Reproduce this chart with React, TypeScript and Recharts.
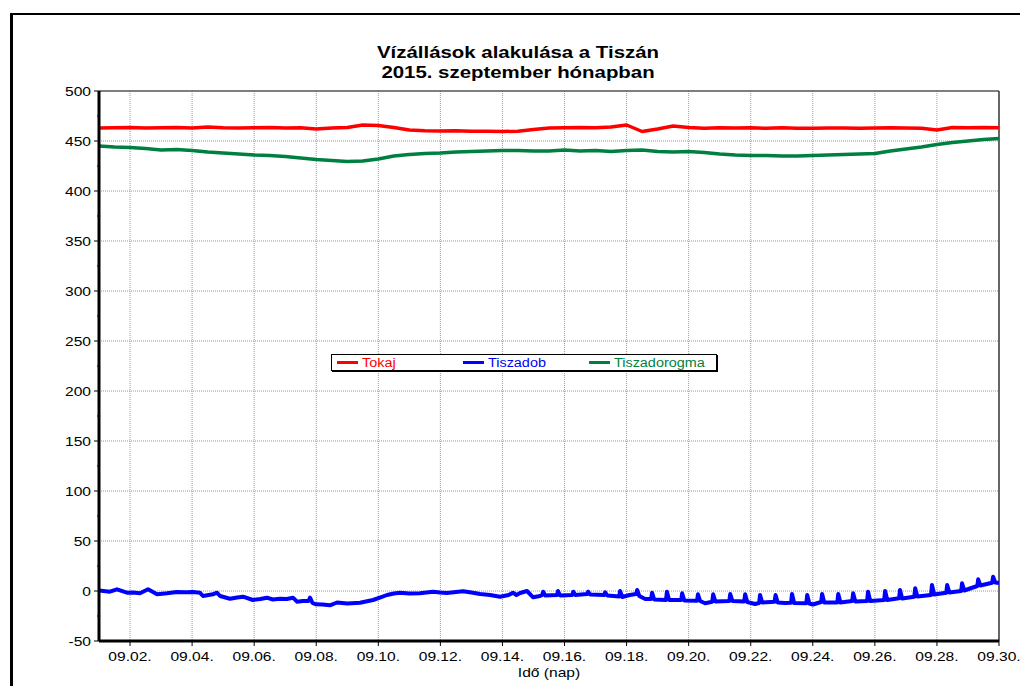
import { LineChart, Line, XAxis, YAxis, CartesianGrid, ReferenceLine, Legend } from 'recharts';

// Hourly gauge readings of the Tisza, September 2015 (cm)

const FONT = '"Liberation Sans", Arial, sans-serif';
const STRETCH = 1.2; // the original picture is a bit wider than tall, text too

const COLORS = {
  tokaj: '#ff0000',
  tiszadob: '#0000ff',
  tiszadorogma: '#008040',
};

// half-day steps from 09.01 to 09.30
const dayGrid = [
  1, 1.5, 2, 2.5, 3, 3.5, 4, 4.5, 5, 5.5, 6, 6.5, 7, 7.5, 8, 8.5, 9, 9.5, 10, 10.5,
  11, 11.5, 12, 12.5, 13, 13.5, 14, 14.5, 15, 15.5, 16, 16.5, 17, 17.5, 18, 18.5, 19, 19.5, 20, 20.5,
  21, 21.5, 22, 22.5, 23, 23.5, 24, 24.5, 25, 25.5, 26, 26.5, 27, 27.5, 28, 28.5, 29, 29.5, 30,
];

const tokaj = [
  463, 463.3, 463.5, 463, 463.2, 463.5, 463, 464, 463.2, 463, 463.2, 463.5, 463, 463.3, 462, 463, 463.5, 466, 465.5, 463.5,
  461, 460.3, 460, 460.2, 459.8, 459.7, 459.5, 459.8, 461.5, 463, 463.3, 463.5, 463.3, 464, 466, 459.5, 462, 465, 463.5, 462.8,
  463.3, 463, 463.2, 462.7, 463.2, 462.8, 462.7, 463, 463, 462.7, 463, 463.2, 463, 462.8, 461, 463.5, 463.3, 463.5, 463.2,
];

const tiszadorogma = [
  445, 444, 443.5, 442.5, 441, 441.5, 440.5, 439, 438, 437, 436, 435.5, 434.5, 433, 431.5, 430.5, 429.5, 430, 432, 435,
  436.5, 437.5, 438, 439, 439.5, 440, 440.5, 440.5, 440, 440, 441, 440, 440.5, 439.5, 440.5, 441, 439.5, 439, 439.5, 438.5,
  437, 436, 435.5, 435.5, 435, 435, 435.5, 436, 436.5, 437, 437.5, 440, 442, 444, 446.5, 448.5, 450, 451.5, 452.5,
];

// [day, level] - irregular, keeps the twice-daily peaks of the second half
const tiszadob: [number, number][] = [
  [1.0, 0.5], [1.35, -0.7], [1.58, 1.7], [1.9, -1.7], [2.1, -1.5], [2.32, -2.3], [2.58, 1.7], [2.87, -3.3],
  [3.19, -2.3], [3.51, -1], [3.8, -1.2], [4.03, -1], [4.25, -1.7], [4.35, -5], [4.67, -3.3], [4.8, -1.7],
  [4.9, -5], [5.22, -7.7], [5.45, -6.5], [5.64, -5.7], [5.96, -9], [6.2, -8], [6.41, -6.7], [6.6, -8.5],
  [6.83, -7.7], [7.05, -8], [7.25, -6.7], [7.38, -10.7], [7.57, -10], [7.75, -10], [7.8, -6.7], [7.88, -12],
  [7.99, -13.3], [8.2, -13.5], [8.44, -14.3], [8.67, -11.5], [9.0, -12.5], [9.41, -11.7], [9.83, -9], [10.05, -6.7],
  [10.28, -4], [10.5, -2.5], [10.7, -1.7], [11.0, -2.5], [11.34, -2.3], [11.76, -0.7], [12.0, -1.5], [12.21, -2],
  [12.5, -1], [12.73, -0.3], [13.0, -1.5], [13.28, -3], [13.6, -4], [13.92, -5.7], [14.2, -4], [14.34, -1.7],
  [14.45, -4], [14.57, -2], [14.79, 0], [14.99, -6.3], [15.21, -5],
  [15.28, -4], [15.31, -0.7], [15.38, -4.5],
  [15.76, -4], [15.79, 0], [15.86, -4.5],
  [16.25, -4], [16.28, -0.7], [16.35, -4],
  [16.73, -3], [16.76, -0.7], [16.83, -3.5],
  [17.28, -4], [17.31, -1.3], [17.38, -4.5],
  [17.76, -5.5], [17.79, 0], [17.86, -6],
  [18.1, -4],
  [18.31, -3], [18.34, 1], [18.41, -5],
  [18.6, -8],
  [18.79, -8], [18.82, -1.7], [18.89, -8.5],
  [19.27, -9], [19.3, -0.7], [19.37, -9],
  [19.76, -9], [19.79, -2.3], [19.86, -9.5],
  [20.27, -9.7], [20.3, -3.3], [20.37, -10],
  [20.53, -12.3],
  [20.76, -10.7], [20.79, -3.3], [20.86, -10.5],
  [21.31, -10], [21.34, -3], [21.41, -10],
  [21.79, -10.5], [21.82, -3.3], [21.89, -11],
  [22.14, -13],
  [22.27, -12], [22.3, -4], [22.37, -11.5],
  [22.77, -10.7], [22.8, -4], [22.87, -11.5],
  [23.1, -12],
  [23.3, -11.7], [23.33, -3], [23.4, -12],
  [23.79, -12.3], [23.82, -4], [23.89, -12.5],
  [24.0, -13.5],
  [24.27, -11], [24.3, -3], [24.37, -11.5],
  [24.79, -11.5], [24.82, -3], [24.89, -11.5],
  [25.27, -10], [25.3, -2.3], [25.37, -10.5],
  [25.75, -10], [25.78, -0.7], [25.85, -10],
  [26.3, -9], [26.33, 0], [26.4, -9],
  [26.78, -7.3], [26.81, 1], [26.88, -7.5],
  [27.27, -5.7], [27.3, 2.7], [27.37, -5.5],
  [27.81, -4], [27.84, 6], [27.91, -3.5],
  [28.3, -1.7], [28.33, 6], [28.4, -1.5],
  [28.78, 0], [28.81, 7.7], [28.88, 0.5],
  [29.3, 5], [29.33, 11.7], [29.4, 5.5],
  [29.78, 8.3], [29.81, 14.3], [29.88, 8.5],
  [30, 8],
];

const xTicks = [2, 4, 6, 8, 10, 12, 14, 16, 18, 20, 22, 24, 26, 28, 30];
const xGrid = [2, 4, 6, 8, 10, 12, 14, 16, 18, 20, 22, 24, 26, 28];
const yTicks = [
  -50, -25, 0, 25, 50, 75, 100, 125, 150, 175, 200, 225, 250, 275, 300, 325, 350, 375, 400, 425, 450, 475, 500,
];
const yGrid = [0, 50, 100, 150, 200, 250, 300, 350, 400, 450];

const legendItems = [
  { name: 'Tokaj', color: COLORS.tokaj },
  { name: 'Tiszadob', color: COLORS.tiszadob },
  { name: 'Tiszadorogma', color: COLORS.tiszadorogma },
];

const tokajData = dayGrid.map((t, i) => ({ t, v: tokaj[i] }));
const dorogmaData = dayGrid.map((t, i) => ({ t, v: tiszadorogma[i] }));
const dobData = tiszadob.map(([t, v]) => ({ t, v }));

const stretchAt = (x: number, y: number) =>
  `translate(${x} ${y}) scale(${STRETCH} 1) translate(${-x} ${-y})`;

function YTick(props: any) {
  const { x, y, payload } = props;
  const major = payload.value % 50 === 0;
  const axisX = x + 8; // tickSize 5 + tickMargin 3
  return (
    <g>
      <line x1={axisX - (major ? 5 : 2)} x2={axisX} y1={y} y2={y} stroke="#000" strokeWidth={1} />
      {major && (
        <text
          x={x}
          y={y}
          dy={5}
          textAnchor="end"
          fontSize={13}
          fontFamily={FONT}
          fill="#000"
          transform={stretchAt(x, y)}
        >
          {payload.value}
        </text>
      )}
    </g>
  );
}

function XTick(props: any) {
  const { x, y, payload } = props;
  const label = `09.${String(payload.value).padStart(2, '0')}.`;
  return (
    <text
      x={x}
      y={y}
      dy={13}
      textAnchor="middle"
      fontSize={13}
      fontFamily={FONT}
      fill="#000"
      transform={stretchAt(x, y)}
    >
      {label}
    </text>
  );
}

function XLabel(props: any) {
  const { viewBox } = props;
  const cx = viewBox.x + viewBox.width / 2;
  const y = viewBox.y + 36;
  return (
    <text x={cx} y={y} textAnchor="middle" fontSize={13} fontFamily={FONT} fill="#000" transform={stretchAt(cx, y)}>
      Idő (nap)
    </text>
  );
}

function LegendBox() {
  return (
    <div
      style={{
        boxSizing: 'border-box',
        width: 386,
        height: 17,
        border: '1px solid #000',
        boxShadow: '1px 1px 0 #000',
        background: '#fff',
        display: 'flex',
        alignItems: 'center',
        fontFamily: FONT,
        fontSize: 12,
        lineHeight: '14px',
      }}
    >
      {legendItems.map((item) => (
        <div
          key={item.name}
          style={{ boxSizing: 'border-box', width: 126, paddingLeft: 5, display: 'flex', alignItems: 'center' }}
        >
          <span style={{ display: 'inline-block', width: 21, height: 3, background: item.color, marginRight: 4 }} />
          <span
            style={{
              display: 'inline-block',
              color: item.color,
              transform: `scaleX(${STRETCH})`,
              transformOrigin: 'left center',
            }}
          >
            {item.name}
          </span>
        </div>
      ))}
    </div>
  );
}

export default function App() {
  return (
    <div
      style={{
        position: 'fixed',
        left: 0,
        top: 0,
        width: 1020,
        height: 686,
        overflow: 'hidden',
        background: '#fff',
      }}
    >
      {/* outer frame of the original picture, runs off the right and bottom edge */}
      <div
        style={{
          position: 'absolute',
          left: 10,
          top: 13,
          width: 1100,
          height: 800,
          borderTop: '2px solid #000',
          borderLeft: '3px solid #000',
        }}
      />
      <div
        style={{
          position: 'absolute',
          left: 0,
          top: 43,
          width: 1036,
          textAlign: 'center',
          fontFamily: FONT,
          fontWeight: 'bold',
          fontSize: 17,
          lineHeight: '20px',
          color: '#000',
          transform: `scaleX(${STRETCH})`,
        }}
      >
        <div>Vízállások alakulása a Tiszán</div>
        <div>2015. szeptember hónapban</div>
      </div>
      <div style={{ position: 'absolute', left: 0, top: 0 }}>
        <LineChart width={1020} height={686} margin={{ top: 91, right: 21, bottom: 15, left: 0 }}>
          <CartesianGrid
            horizontalValues={yGrid}
            verticalValues={xGrid}
            stroke="#999"
            strokeDasharray="1 1"
          />
          <XAxis
            type="number"
            dataKey="t"
            domain={[1, 30]}
            ticks={xTicks}
            height={30}
            tickSize={5}
            tickMargin={2}
            axisLine={{ stroke: '#000', strokeWidth: 3 }}
            tickLine={{ stroke: '#000' }}
            tick={<XTick />}
            label={<XLabel />}
            allowDataOverflow
          />
          <YAxis
            type="number"
            domain={[-50, 500]}
            ticks={yTicks}
            width={99}
            tickSize={5}
            tickMargin={3}
            axisLine={{ stroke: '#000', strokeWidth: 3 }}
            tickLine={false}
            tick={<YTick />}
            interval={0}
            allowDataOverflow
          />
          <ReferenceLine y={500} stroke="#555" strokeWidth={1.5} />
          <ReferenceLine x={30} stroke="#333" strokeWidth={1.5} />
          <Legend
            verticalAlign="middle"
            align="center"
            layout="horizontal"
            wrapperStyle={{ left: 331, top: 354, width: 386, height: 17 }}
            content={<LegendBox />}
          />
          <Line
            data={tokajData}
            dataKey="v"
            name="Tokaj"
            type="linear"
            stroke={COLORS.tokaj}
            strokeWidth={3.5}
            strokeLinejoin="round"
            dot={false}
            isAnimationActive={false}
          />
          <Line
            data={dobData}
            dataKey="v"
            name="Tiszadob"
            type="linear"
            stroke={COLORS.tiszadob}
            strokeWidth={4}
            strokeLinejoin="round"
            dot={false}
            isAnimationActive={false}
          />
          <Line
            data={dorogmaData}
            dataKey="v"
            name="Tiszadorogma"
            type="linear"
            stroke={COLORS.tiszadorogma}
            strokeWidth={3.5}
            strokeLinejoin="round"
            dot={false}
            isAnimationActive={false}
          />
        </LineChart>
      </div>
    </div>
  );
}
